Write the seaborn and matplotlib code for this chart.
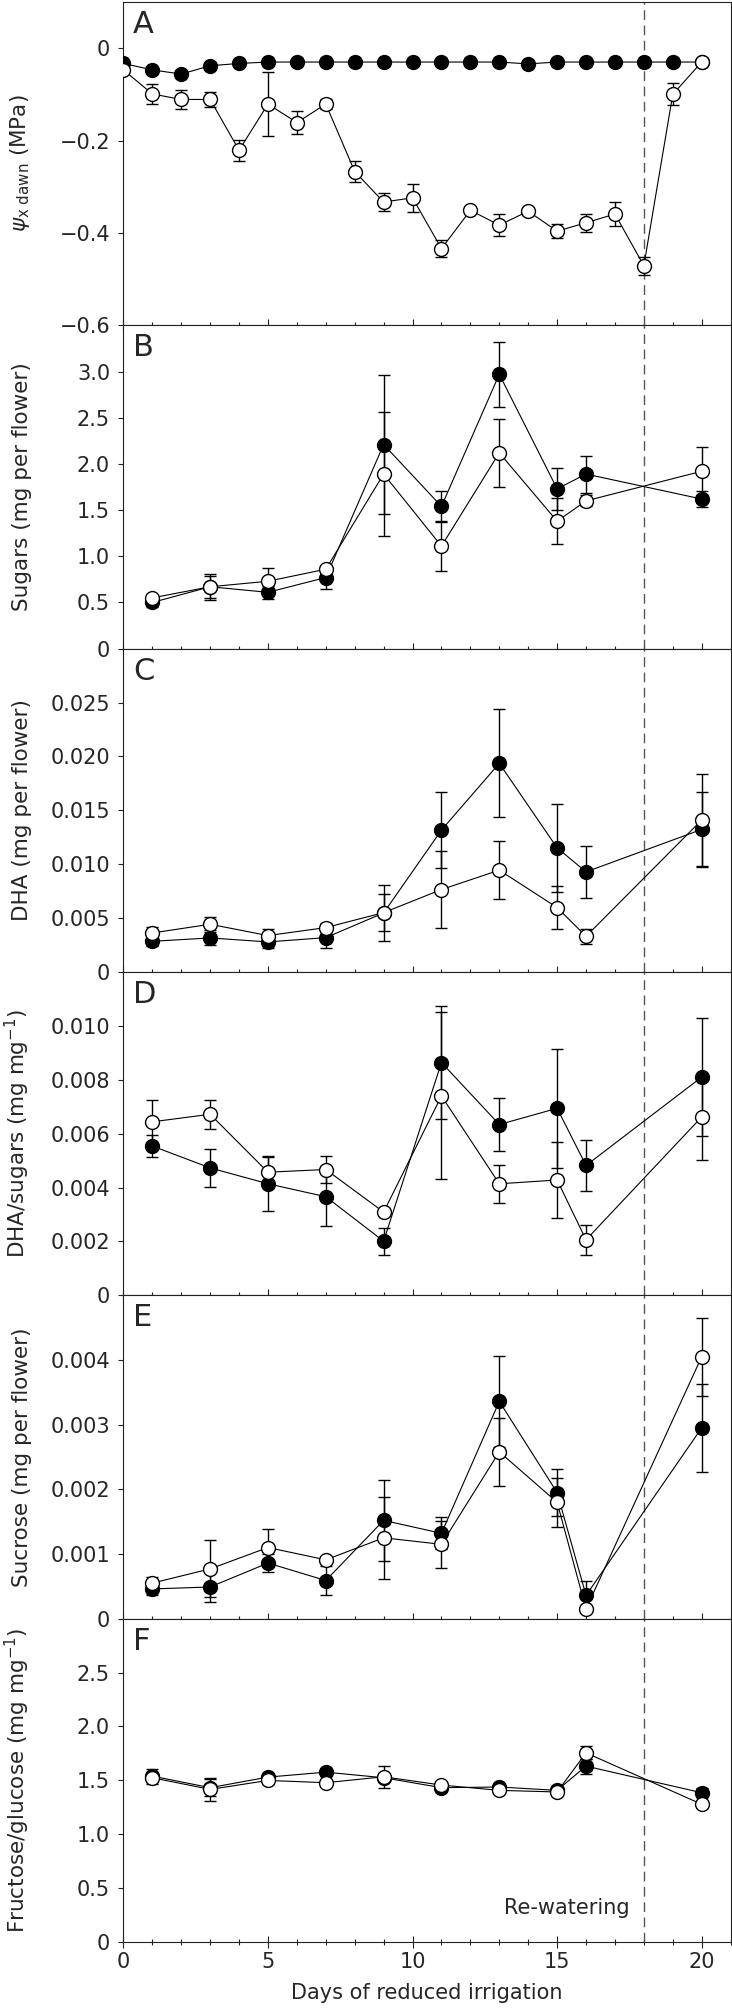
"""
Six stacked panels: water potential, sugars, DHA, DHA/sugars, sucrose,
fructose/glucose over days of reduced irrigation (control = filled, stressed = open)
"""

import numpy as np
import matplotlib
matplotlib.use('Agg')
import matplotlib.pyplot as plt
from matplotlib.ticker import FixedLocator, MultipleLocator
import seaborn as sns

# ---- data ----
DAYS_A = [0, 1, 2, 3, 4, 5, 6, 7, 8, 9, 10, 11, 12, 13, 14, 15, 16, 17, 18, 19, 20]
DAYS = [1, 3, 5, 7, 9, 11, 13, 15, 16, 20]

psi_ctrl = [-0.033, -0.047, -0.056, -0.038, -0.033, -0.030, -0.030, -0.030, -0.030, -0.030, -0.030,
            -0.030, -0.030, -0.030, -0.034, -0.030, -0.030, -0.030, -0.030, -0.030, -0.030]
psi_ctrl_err = [0.004, 0.004, 0.004, 0.004, 0.003, 0.003, 0.003, 0.003, 0.003, 0.003, 0.003,
                0.003, 0.003, 0.003, 0.003, 0.003, 0.003, 0.003, 0.003, 0.003, 0.003]
psi_dry = [-0.047, -0.099, -0.111, -0.111, -0.221, -0.121, -0.161, -0.121, -0.267, -0.333, -0.324,
           -0.434, -0.351, -0.383, -0.353, -0.396, -0.378, -0.359, -0.471, -0.100, -0.030]
psi_dry_err = [0.005, 0.022, 0.020, 0.016, 0.023, 0.070, 0.025, 0.010, 0.022, 0.020, 0.031,
               0.018, 0.006, 0.024, 0.008, 0.015, 0.020, 0.025, 0.019, 0.024, 0.004]

sugar_ctrl = [0.50, 0.67, 0.61, 0.77, 2.21, 1.54, 2.97, 1.73, 1.89, 1.62]
sugar_ctrl_err = [0.05, 0.12, 0.07, 0.12, 0.75, 0.165, 0.355, 0.23, 0.20, 0.085]
sugar_dry = [0.55, 0.67, 0.73, 0.86, 1.89, 1.11, 2.12, 1.38, 1.60, 1.92]
sugar_dry_err = [0.03, 0.14, 0.14, 0.03, 0.67, 0.27, 0.37, 0.25, 0.06, 0.26]

dha_ctrl = [0.00285, 0.00316, 0.00279, 0.00319, 0.00548, 0.01317, 0.01936, 0.01152, 0.00929, 0.01323]
dha_ctrl_err = [0.0004, 0.0007, 0.0006, 0.0010, 0.0026, 0.0035, 0.0050, 0.0041, 0.0024, 0.0035]
dha_dry = [0.00362, 0.00443, 0.00338, 0.00412, 0.00551, 0.00765, 0.00945, 0.00598, 0.00331, 0.01410]
dha_dry_err = [0.0006, 0.0007, 0.0006, 0.0004, 0.0017, 0.0036, 0.0027, 0.0020, 0.0007, 0.0043]

ratio_ctrl = [0.00554, 0.00473, 0.00414, 0.00366, 0.00201, 0.00864, 0.00634, 0.00694, 0.00482, 0.00810]
ratio_ctrl_err = [0.0004, 0.0007, 0.0010, 0.0011, 0.0005, 0.0021, 0.0010, 0.0022, 0.00095, 0.0022]
ratio_dry = [0.00644, 0.00672, 0.00457, 0.00467, 0.00309, 0.00740, 0.00414, 0.00428, 0.00206, 0.00662]
ratio_dry_err = [0.0008, 0.00053, 0.0006, 0.0005, 0.0001, 0.0031, 0.0007, 0.0014, 0.00055, 0.0016]

sucr_ctrl = [0.00046, 0.00049, 0.00086, 0.00059, 0.00152, 0.00132, 0.00336, 0.00195, 0.00036, 0.00295]
sucr_ctrl_err = [0.0001, 0.00023, 0.00014, 0.00022, 0.00063, 0.00025, 0.0007, 0.00036, 0.00023, 0.00068]
sucr_dry = [0.00055, 0.00077, 0.00110, 0.00091, 0.00125, 0.00115, 0.00258, 0.00180, 0.00015, 0.00405]
sucr_dry_err = [0.0001, 0.00044, 0.00029, 0.00003, 0.00063, 0.00036, 0.00053, 0.00038, 0.00005, 0.0006]

fg_ctrl = [1.539, 1.432, 1.530, 1.576, 1.524, 1.432, 1.438, 1.407, 1.632, 1.385]
fg_ctrl_err = [0.07, 0.08, 0.03, 0.03, 0.03, 0.02, 0.02, 0.02, 0.07, 0.04]
fg_dry = [1.524, 1.416, 1.499, 1.478, 1.533, 1.456, 1.407, 1.392, 1.755, 1.278]
fg_dry_err = [0.04, 0.105, 0.03, 0.02, 0.10, 0.02, 0.02, 0.02, 0.06, 0.03]

# tick values / labels per panel
yticks_A = [0, -0.2, -0.4, -0.6]
ylabels_A = ['0', '\u22120.2', '\u22120.4', '\u22120.6']
yticks_B = [0, 0.5, 1.0, 1.5, 2.0, 2.5, 3.0]
ylabels_B = ['0', '0.5', '1.0', '1.5', '2.0', '2.5', '3.0']
yticks_C = [0, 0.005, 0.010, 0.015, 0.020, 0.025]
ylabels_C = ['0', '0.005', '0.010', '0.015', '0.020', '0.025']
yticks_D = [0, 0.002, 0.004, 0.006, 0.008, 0.010]
ylabels_D = ['0', '0.002', '0.004', '0.006', '0.008', '0.010']
yticks_E = [0, 0.001, 0.002, 0.003, 0.004]
ylabels_E = ['0', '0.001', '0.002', '0.003', '0.004']
yticks_F = [0, 0.5, 1.0, 1.5, 2.0, 2.5]
ylabels_F = ['0', '0.5', '1.0', '1.5', '2.0', '2.5']
xticks = [0, 5, 10, 15, 20]
REWATER_DAY = 18

panels = [
    ('A', DAYS_A, psi_ctrl, psi_ctrl_err, psi_dry, psi_dry_err, (-0.6, 0.1), yticks_A, ylabels_A,
     r'$\psi_{\rm x\ dawn}$ (MPa)'),
    ('B', DAYS, sugar_ctrl, sugar_ctrl_err, sugar_dry, sugar_dry_err, (0, 3.5), yticks_B, ylabels_B,
     'Sugars (mg per flower)'),
    ('C', DAYS, dha_ctrl, dha_ctrl_err, dha_dry, dha_dry_err, (0, 0.030), yticks_C, ylabels_C,
     'DHA (mg per flower)'),
    ('D', DAYS, ratio_ctrl, ratio_ctrl_err, ratio_dry, ratio_dry_err, (0, 0.012), yticks_D, ylabels_D,
     r'DHA/sugars (mg mg$^{-1}$)'),
    ('E', DAYS, sucr_ctrl, sucr_ctrl_err, sucr_dry, sucr_dry_err, (0, 0.005), yticks_E, ylabels_E,
     'Sucrose (mg per flower)'),
    ('F', DAYS, fg_ctrl, fg_ctrl_err, fg_dry, fg_dry_err, (0, 3.0), yticks_F, ylabels_F,
     r'Fructose/glucose (mg mg$^{-1}$)'),
]

sns.set_theme(style='ticks')
plt.rcParams['font.family'] = ['DejaVu Sans']
plt.rcParams['mathtext.fontset'] = 'dejavusans'

W, H = 732, 2011
fig = plt.figure(figsize=(W / 100, H / 100), dpi=100)
left, right = 123.4 / W, 730.6 / W
top_px, bot_px = 2, 1942
ph = (bot_px - top_px) / 6

axes = []
for i in range(6):
    y0 = 1 - (top_px + (i + 1) * ph) / H
    ax = fig.add_axes([left, y0, right - left, ph / H], sharex=axes[0] if axes else None)
    axes.append(ax)

ax_w_px = (right - left) * W

for ax, (letter, days, yc, ec, yd, ed, ylim, yt, ytl, ylab) in zip(axes, panels):
    # re-watering marker
    ax.axvline(REWATER_DAY, color='#555555', lw=1.0, dashes=(7, 4), zorder=1)

    # error bars first, markers on top
    ax.errorbar(days, yc, yerr=ec, fmt='none', ecolor='black', elinewidth=1.0,
                capsize=4.5, capthick=1.0, zorder=2)
    ax.errorbar(days, yd, yerr=ed, fmt='none', ecolor='black', elinewidth=1.0,
                capsize=4.5, capthick=1.0, zorder=2)

    sns.lineplot(x=days, y=yc, ax=ax, color='black', linewidth=0.8, marker='o',
                 markersize=10, markerfacecolor='black', markeredgecolor='black',
                 markeredgewidth=1.0, zorder=3, sort=False)
    sns.lineplot(x=days, y=yd, ax=ax, color='black', linewidth=0.8, marker='o',
                 markersize=10, markerfacecolor='white', markeredgecolor='black',
                 markeredgewidth=1.0, zorder=4, sort=False)

    ax.set_xlim(0, 21)
    ax.set_ylim(*ylim)
    ax.yaxis.set_major_locator(FixedLocator(yt))
    ax.set_yticklabels(ytl)
    ax.xaxis.set_major_locator(FixedLocator(xticks))
    ax.xaxis.set_minor_locator(MultipleLocator(1))
    ax.tick_params(axis='x', which='major', direction='inout', length=8.5, width=0.8,
                   color='#222222', labelsize=15, pad=3)
    ax.tick_params(axis='x', which='minor', direction='inout', length=4.7, width=0.8,
                   color='#222222')
    ax.tick_params(axis='y', which='major', direction='out', length=3.6, width=0.8,
                   color='#222222', labelsize=15, pad=6)
    for s in ax.spines.values():
        s.set_linewidth(0.8)
        s.set_color('#222222')

    ax.set_ylabel(ylab, fontsize=15.5)
    ax.yaxis.set_label_coords((32 - 123.4) / ax_w_px, 0.5)
    ax.text(0.016, 0.975, letter, transform=ax.transAxes, fontsize=22,
            ha='left', va='top')

for ax in axes[:-1]:
    ax.tick_params(axis='x', which='both', labelbottom=False)
    ax.set_xlabel('')

axes[-1].set_xlabel('Days of reduced irrigation', fontsize=15, labelpad=8)
axes[-1].text(17.5, 0.32, 'Re-watering', fontsize=15, ha='right', va='center')

fig.savefig('out.png', dpi=100)
plt.close(fig)
